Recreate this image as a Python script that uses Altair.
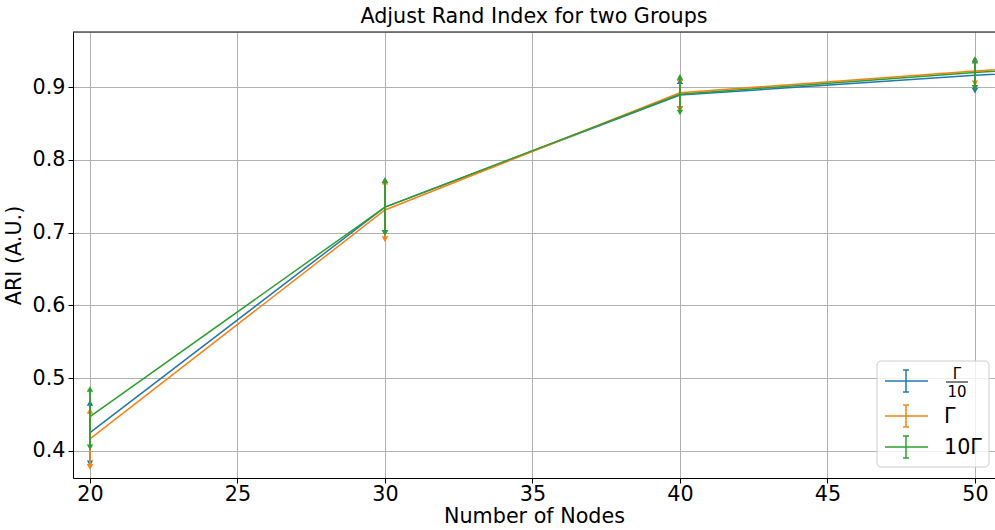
import altair as alt
import pandas as pd

# Number of nodes and mean ARI per coupling strength
nodes = [20, 30, 40, 50, 60]
series_names = ["Γ/10", "Γ", "10Γ"]
colors = ["#1f77b4", "#ff7f0e", "#2ca02c"]

ari_mean = {
    "Γ/10": [0.425, 0.735, 0.889, 0.916, 0.940],
    "Γ": [0.4165, 0.731, 0.892, 0.922, 0.946],
    "10Γ": [0.447, 0.735, 0.890, 0.920, 0.943],
}
# error bar ends for the measured node counts
err_nodes = [20, 30, 40, 50]
ari_low = {
    "Γ/10": [0.383, 0.6995, 0.870, 0.895],
    "Γ": [0.378, 0.691, 0.870, 0.905],
    "10Γ": [0.405, 0.6995, 0.865, 0.899],
}
ari_high = {
    "Γ/10": [0.466, 0.772, 0.908, 0.936],
    "Γ": [0.455, 0.770, 0.912, 0.938],
    "10Γ": [0.485, 0.772, 0.914, 0.9385],
}

x_ticks = [20, 25, 30, 35, 40, 45, 50]
y_ticks = [0.4, 0.5, 0.6, 0.7, 0.8, 0.9]

W, H = 922, 446
FONT = "DejaVu Sans"
FS = 20.7

xs = alt.Scale(domain=[19.424, 50.68], nice=False, zero=False)
ys = alt.Scale(domain=[0.3627, 0.9756], nice=False, zero=False)

x_axis = alt.Axis(values=x_ticks, title="Number of Nodes", format="d",
                  grid=True, gridColor="#b0b0b0", gridWidth=1,
                  domainColor="black", tickColor="black", tickSize=5,
                  labelFontSize=FS, titleFontSize=FS, labelPadding=1,
                  titlePadding=3, labelColor="black", titleColor="black",
                  titleFontWeight="normal", labelFont=FONT, titleFont=FONT)
y_axis = alt.Axis(values=y_ticks, title="ARI (A.U.)", format=".1f",
                  grid=True, gridColor="#b0b0b0", gridWidth=1,
                  domainColor="black", tickColor="black", tickSize=5,
                  labelFontSize=FS, titleFontSize=FS, labelPadding=3,
                  titlePadding=8, labelColor="black", titleColor="black",
                  titleFontWeight="normal", labelFont=FONT, titleFont=FONT)

one = pd.DataFrame({"d": [0]})

layers = []
# empty base carrying the axes
base = alt.Chart(one).mark_point(opacity=0).encode(
    x=alt.X("d:Q", scale=xs, axis=x_axis),
    y=alt.Y("d:Q", scale=ys, axis=y_axis),
)
layers.append(base)

for name, col in zip(series_names, colors):
    line_df = pd.DataFrame({"n": nodes, "ari": ari_mean[name]})
    err_df = pd.DataFrame({"n": err_nodes, "lo": ari_low[name], "hi": ari_high[name]})
    line = alt.Chart(line_df).mark_line(color=col, strokeWidth=1.5, clip=True).encode(
        x=alt.X("n:Q", scale=xs), y=alt.Y("ari:Q", scale=ys))
    bars = alt.Chart(err_df).mark_rule(color=col, strokeWidth=1.8, clip=True).encode(
        x=alt.X("n:Q", scale=xs), y=alt.Y("lo:Q", scale=ys), y2="hi:Q")
    up = alt.Chart(err_df).mark_point(shape="triangle-up", filled=True, color=col,
                                      size=42, opacity=1, clip=True).encode(
        x=alt.X("n:Q", scale=xs), y=alt.Y("hi:Q", scale=ys))
    down = alt.Chart(err_df).mark_point(shape="triangle-down", filled=True, color=col,
                                        size=42, opacity=1, clip=True).encode(
        x=alt.X("n:Q", scale=xs), y=alt.Y("lo:Q", scale=ys))
    layers += [line, bars, up, down]

# top spine
layers.append(alt.Chart(one).mark_rule(color="black", strokeWidth=1).encode(
    x=alt.value(0), x2=alt.value(W), y=alt.value(0)))

# legend box
LX, LY = 804, 329  # legend origin inside the plot area
layers.append(alt.Chart(one).mark_rect(fill="white", fillOpacity=0.8, stroke="#cccccc",
                                       strokeWidth=1, cornerRadius=4).encode(
    x=alt.value(LX), x2=alt.value(LX + 112), y=alt.value(LY), y2=alt.value(LY + 106)))

entry_y = [LY + 20, LY + 55, LY + 86]
for (name, col, ey) in zip(series_names, colors, entry_y):
    cx = LX + 29
    layers.append(alt.Chart(one).mark_rule(color=col, strokeWidth=1.5).encode(
        x=alt.value(LX + 8), x2=alt.value(LX + 51), y=alt.value(ey)))
    layers.append(alt.Chart(one).mark_rule(color=col, strokeWidth=1.5).encode(
        x=alt.value(cx), y=alt.value(ey - 11), y2=alt.value(ey + 11)))
    for dy in (-11, 11):
        layers.append(alt.Chart(one).mark_rule(color=col, strokeWidth=1.5).encode(
            x=alt.value(cx - 3), x2=alt.value(cx + 3), y=alt.value(ey + dy)))

# legend labels
tx = LX + 66
layers.append(alt.Chart(one).mark_text(text="Γ", font=FONT, fontSize=15, align="center",
                                       baseline="alphabetic", color="black").encode(
    x=alt.value(tx + 14), y=alt.value(entry_y[0] - 2)))
layers.append(alt.Chart(one).mark_rule(color="black", strokeWidth=1).encode(
    x=alt.value(tx + 3), x2=alt.value(tx + 25), y=alt.value(entry_y[0] + 1)))
layers.append(alt.Chart(one).mark_text(text="10", font=FONT, fontSize=15, align="center",
                                       baseline="top", color="black").encode(
    x=alt.value(tx + 14), y=alt.value(entry_y[0] + 4)))
layers.append(alt.Chart(one).mark_text(text="Γ", font=FONT, fontSize=FS, align="left",
                                       baseline="middle", color="black").encode(
    x=alt.value(tx + 1), y=alt.value(entry_y[1] + 1)))
layers.append(alt.Chart(one).mark_text(text="10Γ", font=FONT, fontSize=FS, align="left",
                                       baseline="middle", color="black").encode(
    x=alt.value(tx + 1), y=alt.value(entry_y[2] + 1)))

chart = alt.layer(*layers).properties(
    width=W, height=H,
    title=alt.TitleParams("Adjust Rand Index for two Groups", font=FONT, fontSize=FS,
                          fontWeight="normal", color="black", anchor="middle", offset=4),
    autosize=alt.AutoSizeParams(type="none"),
    padding={"left": 73, "top": 32, "right": 0, "bottom": 52},
).configure_view(stroke=None).configure(background="white")

chart.save("out.html", embed_options={"renderer": "svg", "actions": False})
